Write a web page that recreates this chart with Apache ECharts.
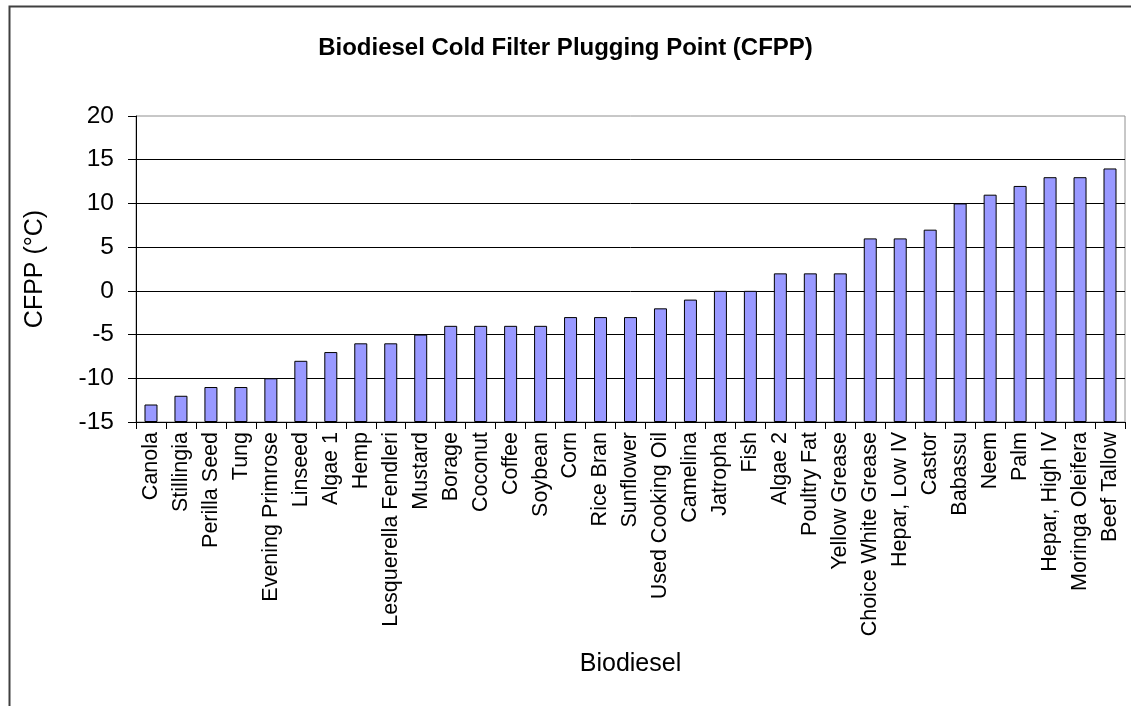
<!DOCTYPE html>
<html>
<head>
<meta charset="utf-8">
<script src="https://cdn.jsdelivr.net/npm/echarts@6/dist/echarts.min.js"></script>
<style>html,body{margin:0;padding:0;background:#fff}#c{width:1131px;height:706px}</style>
</head>
<body>
<div id="c"></div>
<script>
const categories = ["Canola","Stillingia","Perilla Seed","Tung","Evening Primrose","Linseed","Algae 1","Hemp","Lesquerella Fendleri","Mustard","Borage","Coconut","Coffee","Soybean","Corn","Rice Bran","Sunflower","Used Cooking Oil","Camelina","Jatropha","Fish","Algae 2","Poultry Fat","Yellow Grease","Choice White Grease","Hepar, Low IV","Castor","Babassu","Neem","Palm","Hepar, High IV","Moringa Oleifera","Beef Tallow"];
const cfpp = [-13,-12,-11,-11,-10,-8,-7,-6,-6,-5,-4,-4,-4,-4,-3,-3,-3,-2,-1,0,0,2,2,2,6,6,7,10,11,12,13,13,14];
const yMin = -15, yMax = 20, yStep = 5;
const titleText = "Biodiesel Cold Filter Plugging Point (CFPP)";
const xName = "Biodiesel";
const yName = "CFPP (°C)";

const FONT = "'Liberation Sans', Arial, sans-serif";
const chart = echarts.init(document.getElementById('c'), null, {renderer: 'canvas'});
chart.setOption({
  animation: false,
  backgroundColor: '#fff',
  title: {
    text: titleText, left: 'center', top: 31,
    textStyle: {fontFamily: FONT, fontSize: 24, fontWeight: 'bold', color: '#000'}
  },
  graphic: [{
    type: 'rect', left: 7, top: 4, shape: {width: 1200, height: 800},
    style: {fill: 'none', stroke: '#404040', lineWidth: 2}, silent: true, z: 100
  }],
  grid: {left: 136, right: 6, top: 116, bottom: 284, show: true, borderColor: '#909090', borderWidth: 1, backgroundColor: '#fff'},
  xAxis: {
    type: 'category', data: categories,
    name: xName, nameLocation: 'middle', nameGap: 230,
    nameTextStyle: {fontFamily: FONT, fontSize: 25, color: '#000'},
    axisLine: {onZero: false, lineStyle: {color: '#000', width: 1}},
    axisTick: {show: true, length: 7, lineStyle: {color: '#000'}},
    axisLabel: {rotate: 90, interval: 0, margin: 10, fontFamily: FONT, fontSize: 21.5, color: '#000'},
    splitLine: {show: false}
  },
  yAxis: {
    type: 'value', min: yMin, max: yMax, interval: yStep,
    name: yName, nameLocation: 'middle', nameGap: 88, nameRotate: 90,
    nameTextStyle: {fontFamily: FONT, fontSize: 25, color: '#000'},
    axisLine: {show: true, lineStyle: {color: '#000', width: 1}},
    axisTick: {show: true, length: 8, lineStyle: {color: '#000'}},
    axisLabel: {margin: 22, fontFamily: FONT, fontSize: 24.5, color: '#000'},
    splitLine: {show: true, showMaxLine: false, lineStyle: {color: '#000', width: 1}}
  },
  series: [
    {
      type: 'bar', stack: 'cfpp', stackStrategy: 'all', silent: true,
      data: cfpp.map(() => yMin),
      itemStyle: {color: 'rgba(0,0,0,0)', borderWidth: 0},
      barWidth: 13
    },
    {
      type: 'bar', stack: 'cfpp', stackStrategy: 'all',
      data: cfpp.map(v => v - yMin),
      barWidth: 13,
      itemStyle: {color: '#9999FF', borderColor: '#000', borderWidth: 1}
    }
  ]
});
</script>
</body>
</html>
